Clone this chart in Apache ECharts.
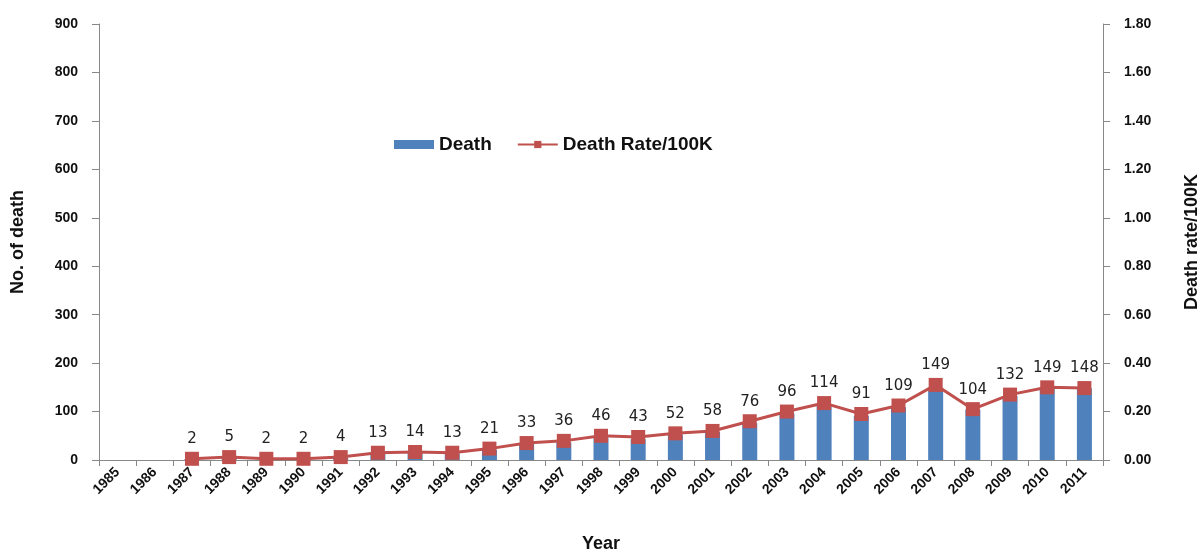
<!DOCTYPE html>
<html style="height:100%;">
<head>
    <meta charset="utf-8">
    <script src="https://cdn.jsdelivr.net/npm/echarts@6/dist/echarts.min.js"></script>
</head>
<body style="height:100%;margin:0;">
    <div id="main" style="width:1201px;height:552px;"></div>
<script>
    // 年份
    var years = ['1985','1986','1987','1988','1989','1990','1991','1992','1993','1994','1995','1996','1997','1998',
                 '1999','2000','2001','2002','2003','2004','2005','2006','2007','2008','2009','2010','2011'];
    // 死亡人数
    var deaths = [null, null, 2, 5, 2, 2, 4, 13, 14, 13, 21, 33, 36, 46, 43, 52, 58, 76, 96, 114, 91, 109, 149, 104, 132, 149, 148];
    // 每10万人死亡率
    var rates = [null, null, 0.005, 0.012, 0.005, 0.005, 0.012, 0.03, 0.033, 0.03, 0.047, 0.07, 0.079, 0.10,
                 0.095, 0.11, 0.12, 0.16, 0.20, 0.235, 0.19, 0.225, 0.31, 0.21, 0.27, 0.30, 0.297];

    var axisFont = {fontFamily: 'Liberation Sans, Arial', fontWeight: 'bold', fontSize: 14, color: '#111'};
    var nameFont = {fontFamily: 'Liberation Sans, Arial', fontWeight: 'bold', fontSize: 18, color: '#111'};
    var axisLine = {show: true, lineStyle: {color: '#888', width: 1}};

    var myChart = echarts.init(document.getElementById('main'));
    var option = {
        animation: false,
        textStyle: {fontFamily: 'Liberation Sans, Arial'},
        legend: {
            left: 389, top: 130,
            itemGap: 25,
            itemWidth: 40, itemHeight: 9,
            textStyle: {fontFamily: 'Liberation Sans, Arial', fontWeight: 'bold', fontSize: 19, color: '#111'},
            data: [
                {name: 'Death', icon: 'rect'},
                {name: 'Death Rate/100K'}
            ]
        },
        grid: {left: 99, right: 98, top: 24, bottom: 92, containLabel: false, outerBoundsMode: 'none'},
        xAxis: {
            type: 'category',
            data: years,
            name: 'Year',
            nameLocation: 'middle',
            nameGap: 75,
            nameTextStyle: nameFont,
            axisLine: axisLine,
            axisTick: {show: true, length: 6, lineStyle: {color: '#888'}},
            axisLabel: Object.assign({rotate: 45, interval: 0, margin: 10}, axisFont)
        },
        yAxis: [
            {
                type: 'value', min: 0, max: 900, interval: 100,
                name: 'No. of death',
                nameLocation: 'middle', nameGap: 72,
                nameTextStyle: nameFont,
                axisLine: axisLine,
                axisTick: {show: true, length: 7, lineStyle: {color: '#888'}},
                splitLine: {show: false},
                axisLabel: Object.assign({margin: 21}, axisFont)
            },
            {
                type: 'value', min: 0, max: 1.8, interval: 0.2,
                name: 'Death rate/100K',
                nameLocation: 'middle', nameGap: 80,
                nameTextStyle: nameFont,
                axisLine: axisLine,
                axisTick: {show: true, length: 7, lineStyle: {color: '#888'}},
                splitLine: {show: false},
                axisLabel: Object.assign({margin: 21, formatter: function (v) { return v.toFixed(2); }}, axisFont)
            }
        ],
        series: [
            {
                name: 'Death',
                type: 'bar',
                yAxisIndex: 0,
                barWidth: 15,
                itemStyle: {color: '#4F81BD'},
                data: deaths
            },
            {
                name: 'Death Rate/100K',
                type: 'line',
                yAxisIndex: 1,
                symbol: 'rect',
                symbolSize: 14,
                lineStyle: {color: '#C0504D', width: 3},
                itemStyle: {color: '#C0504D'},
                label: {
                    show: true,
                    position: 'top',
                    distance: 5,
                    fontFamily: 'DejaVu Sans, Verdana',
                    fontSize: 15,
                    color: '#222',
                    formatter: function (p) { return deaths[p.dataIndex]; }
                },
                data: rates
            }
        ]
    };
    myChart.setOption(option);
</script>
</body>
</html>
